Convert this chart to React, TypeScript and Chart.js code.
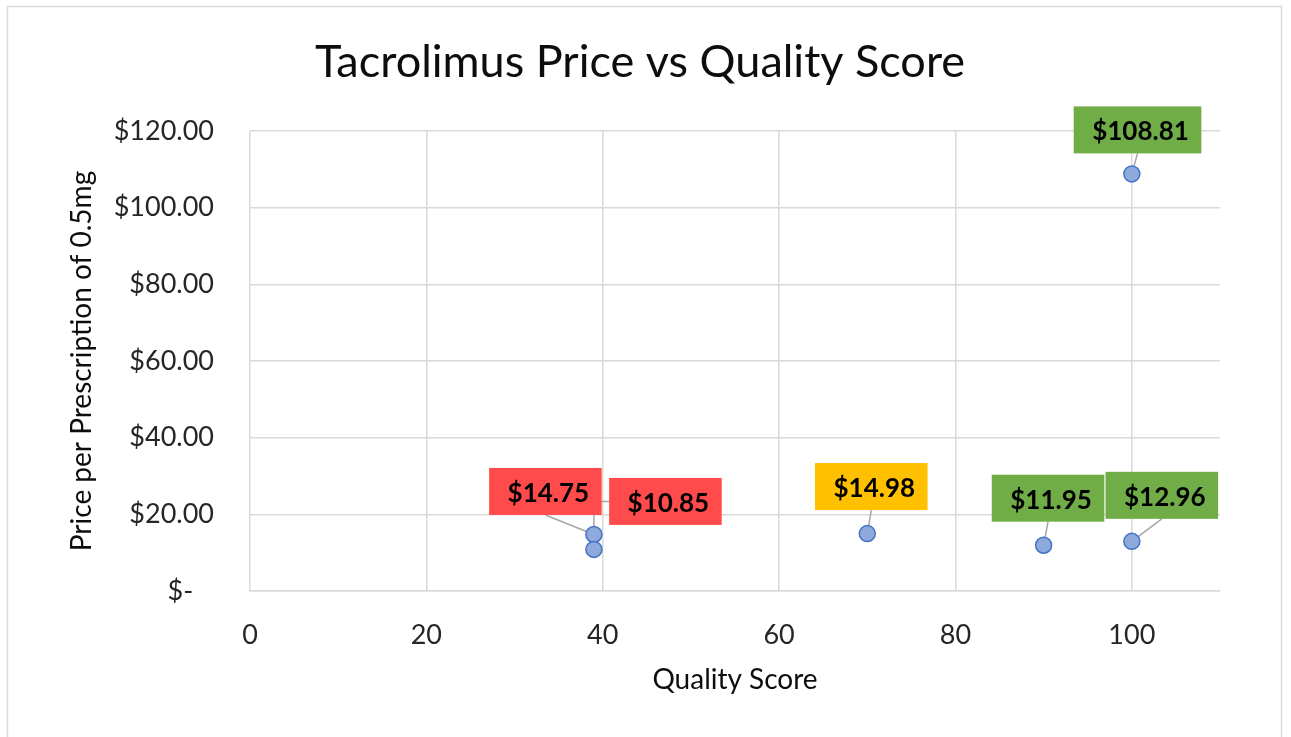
import React, { useEffect, useRef } from 'react';
import { Chart, registerables } from 'chart.js';

Chart.register(...registerables);

// ---- data ----
const CHART_TITLE = 'Tacrolimus Price vs Quality Score';
const X_AXIS_TITLE = 'Quality Score';
const Y_AXIS_TITLE = 'Price per Prescription of 0.5mg';
const qualityScores = [39, 39, 70, 90, 100, 100];
const prices = [14.75, 10.85, 14.98, 11.95, 12.96, 108.81];
const X_MIN = 0;
const X_MAX = 110;
const X_STEP = 20;
const Y_MIN = 0;
const Y_MAX = 120;
const Y_STEP = 20;

// ---- label styling (colours / placement, not data) ----
const labelColors = ['#FF4B4B', '#FF4B4B', '#FFC000', '#70AD47', '#70AD47', '#70AD47'];
const labelOffsets: [number, number][] = [
  [-48.5, -43],
  [71.5, -48],
  [4, -47],
  [4.4, -47],
  [30, -46],
  [5.7, -44],
];
const labelLeaders = ['bottom', 'leftElbow', 'bottom', 'bottom', 'bottom', 'bottom'];

const FONT = 'Lato';
const LABEL_FONT = `bold 26px ${FONT}`;
const BOX_PAD_X = 15.5;
const BOX_H = 47;

const fmtMoney = (v: number) => '$' + v.toFixed(2);

function boxGeom(chart: any, i: number) {
  const meta = chart.getDatasetMeta(0);
  const el = meta.data[i];
  const px = el.x;
  const py = el.y;
  const ctx = chart.ctx;
  ctx.save();
  ctx.font = LABEL_FONT;
  const tw = ctx.measureText(fmtMoney(prices[i])).width;
  ctx.restore();
  const w = tw + BOX_PAD_X * 2;
  const h = BOX_H;
  const cx = px + labelOffsets[i][0];
  const cy = py + labelOffsets[i][1];
  return { px, py, cx, cy, w, h };
}

const framePlugin = {
  id: 'frame',
  beforeDraw(chart: any) {
    const ctx = chart.ctx;
    ctx.save();
    ctx.fillStyle = '#ffffff';
    ctx.fillRect(0, 0, chart.width, chart.height);
    ctx.strokeStyle = '#d9d9d9';
    ctx.lineWidth = 1.5;
    ctx.strokeRect(7.5, 6.5, 1274, 800);
    ctx.restore();
  },
};

const labelPlugin = {
  id: 'boxLabels',
  beforeDatasetsDraw(chart: any) {
    const ctx = chart.ctx;
    ctx.save();
    ctx.strokeStyle = '#a6a6a6';
    ctx.lineWidth = 1.5;
    prices.forEach((_, i) => {
      const g = boxGeom(chart, i);
      ctx.beginPath();
      if (labelLeaders[i] === 'leftElbow') {
        ctx.moveTo(g.cx - g.w / 2, g.cy);
        ctx.lineTo(g.px, g.cy);
        ctx.lineTo(g.px, g.py);
      } else {
        ctx.moveTo(g.cx, g.cy + g.h / 2);
        ctx.lineTo(g.px, g.py);
      }
      ctx.stroke();
    });
    ctx.restore();
  },
  afterDatasetsDraw(chart: any) {
    const ctx = chart.ctx;
    ctx.save();
    prices.forEach((v, i) => {
      const g = boxGeom(chart, i);
      ctx.fillStyle = labelColors[i];
      ctx.fillRect(g.cx - g.w / 2, g.cy - g.h / 2, g.w, g.h);
      ctx.fillStyle = '#000000';
      ctx.font = LABEL_FONT;
      ctx.textAlign = 'center';
      ctx.textBaseline = 'middle';
      ctx.fillText(fmtMoney(v), g.cx + 3, g.cy + 2);
    });
    ctx.restore();
  },
};

export default function App() {
  const canvasRef = useRef<HTMLCanvasElement | null>(null);

  useEffect(() => {
    if (!canvasRef.current) return;
    const points = qualityScores.map((x, i) => ({ x, y: prices[i] }));
    const chart = new Chart(canvasRef.current, {
      type: 'scatter',
      data: {
        datasets: [
          {
            label: 'Price',
            data: points,
            pointRadius: 8,
            pointHoverRadius: 8,
            pointBackgroundColor: '#8EA9DB',
            pointBorderColor: '#4472C4',
            pointBorderWidth: 1.5,
          },
        ],
      },
      options: {
        responsive: false,
        animation: false,
        events: [],
        layout: { padding: { left: 60, right: 71, top: 0, bottom: 30 } },
        plugins: {
          legend: { display: false },
          tooltip: { enabled: false },
          title: {
            display: true,
            text: CHART_TITLE,
            color: '#0d0d0d',
            font: { family: FONT, size: 45, weight: 'normal' },
            padding: { top: 35, bottom: 42 },
          },
        },
        scales: {
          x: {
            type: 'linear',
            min: X_MIN,
            max: X_MAX,
            afterFit: (s: any) => {
              s.height = 116;
            },
            ticks: {
              stepSize: X_STEP,
              includeBounds: false,
              color: '#262626',
              font: { family: FONT, size: 27 },
              padding: 28,
              maxRotation: 0,
            },
            grid: { color: '#d9d9d9', lineWidth: 1.5, drawTicks: false },
            border: { color: '#d9d9d9', width: 1.5 },
            title: {
              display: true,
              text: X_AXIS_TITLE,
              color: '#0d0d0d',
              font: { family: FONT, size: 28 },
              padding: { top: 0, bottom: 10 },
            },
          },
          y: {
            type: 'linear',
            min: Y_MIN,
            max: Y_MAX,
            afterFit: (s: any) => {
              s.width = 190;
            },
            ticks: {
              stepSize: Y_STEP,
              color: '#262626',
              font: { family: FONT, size: 27 },
              padding: 36,
              callback: (v: any) => (Number(v) === 0 ? '$-   ' : fmtMoney(Number(v))),
            },
            grid: { color: '#d9d9d9', lineWidth: 1.5, drawTicks: false },
            border: { display: false },
            title: {
              display: true,
              text: Y_AXIS_TITLE,
              color: '#0d0d0d',
              font: { family: FONT, size: 28 },
              padding: { top: 5, bottom: 0 },
            },
          },
        },
      },
      plugins: [framePlugin, labelPlugin],
    });
    return () => chart.destroy();
  }, []);

  return (
    <div style={{ position: 'fixed', left: 0, top: 0, width: 1291, height: 737, overflow: 'hidden', background: '#fff' }}>
      <canvas ref={canvasRef} width={1291} height={737} style={{ display: 'block' }} />
    </div>
  );
}
